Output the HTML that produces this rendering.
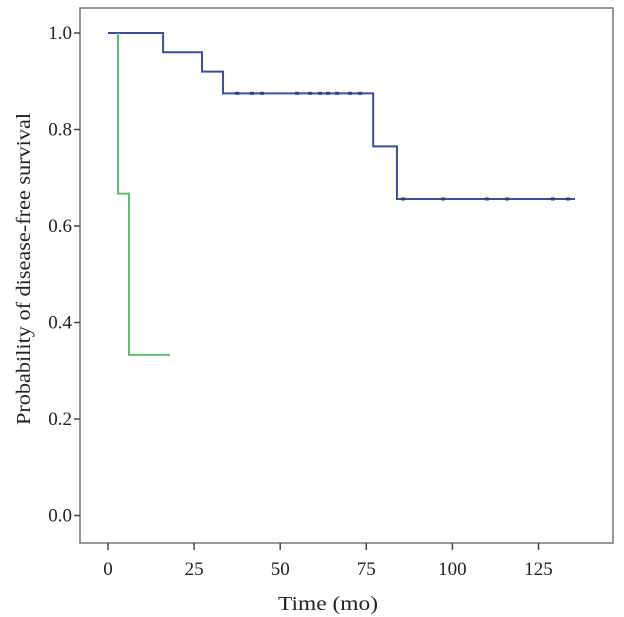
<!DOCTYPE html>
<html><head><meta charset="utf-8"><style>
body{margin:0;background:#fff;}
svg{display:block;font-family:"Liberation Serif",serif;}
</style></head><body>
<svg width="624" height="617">
<rect x="80" y="8" width="533" height="535" fill="#fff" stroke="#777" stroke-width="1.5"/>
<g id="axes"></g>
<g id="series"></g>
<text x="30" y="269" font-size="20" fill="#222" text-anchor="middle" transform="rotate(-90 30 269)" textLength="312" lengthAdjust="spacingAndGlyphs">Probability of disease-free survival</text>
<text x="328" y="610" font-size="20" fill="#222" text-anchor="middle" textLength="100" lengthAdjust="spacingAndGlyphs">Time (mo)</text>
</svg>
<script>
const xTicks=[0,25,50,75,100,125];
const yTicks=[0.0,0.2,0.4,0.6,0.8,1.0];
const blueTimes=[0,16,27.3,33.4,77,83.9,135.6];
const blueSurv=[1.0,0.96,0.92,0.875,0.765,0.656,0.656];
const blueCensor=[37.5,41.8,44.7,54.9,58.7,61.6,63.9,66.5,70.3,73.2,85.7,97.3,110,115.9,129.2,133.6];
const greenTimes=[2.9,2.9,6.1,18];
const greenSurv=[1.0,0.667,0.333,0.333];
const X=t=>108+t*(86.1/25);
const Y=s=>515.5-s*482.5;
const NS='http://www.w3.org/2000/svg';
const axes=document.getElementById('axes'),ser=document.getElementById('series');
function mk(tag,attrs,parent){const e=document.createElementNS(NS,tag);for(const k in attrs)e.setAttribute(k,attrs[k]);parent.appendChild(e);return e;}
xTicks.forEach(t=>{
 const l=mk('line',{x1:X(t),x2:X(t),y1:543,y2:550,stroke:'#444','stroke-width':1.5},axes);
 
 
 const tx=mk('text',{x:X(t),y:575,'font-size':19,'text-anchor':'middle',fill:'#222'},axes);tx.textContent=t;
 
 
});
yTicks.forEach(v=>{
 const l=mk('line',{x1:74,x2:80,y1:Y(v),y2:Y(v),stroke:'#444','stroke-width':1.5},axes);
 
 
 const tx=mk('text',{x:72,y:Y(v)+6,'font-size':19,'text-anchor':'end',fill:'#222'},axes);tx.textContent=v.toFixed(1);
 
 
});
function stepPath(ts,ss){let d='M'+X(ts[0])+','+Y(ss[0]);for(let i=1;i<ts.length;i++){d+=' H'+X(ts[i])+' V'+Y(ss[i]);}return d;}
function survAt(ts,ss,t){let s=ss[0];for(let i=0;i<ts.length;i++)if(t>=ts[i])s=ss[i];return s;}
const bp=mk('path',{d:stepPath(blueTimes,blueSurv),fill:'none',stroke:'#3b4f9c','stroke-width':2},ser);


blueCensor.forEach(t=>{const y=Y(survAt(blueTimes,blueSurv,t));
 const c=mk('line',{x1:X(t)-2,x2:X(t)+2,y1:y,y2:y,stroke:'#2b3f8c','stroke-width':3},ser);
 
 });
const gp=mk('path',{d:stepPath(greenTimes,greenSurv),fill:'none',stroke:'#5bbf6e','stroke-width':2},ser);


</script>
</body></html>
